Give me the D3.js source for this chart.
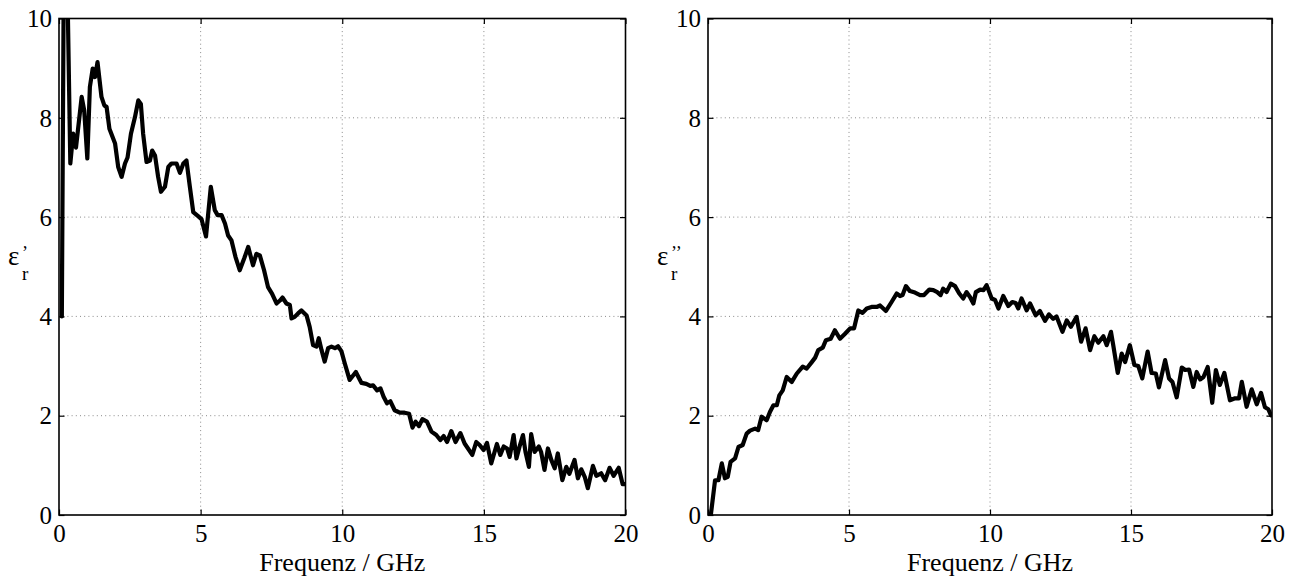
<!DOCTYPE html>
<html>
<head>
<meta charset="utf-8">
<script src="https://cdn.jsdelivr.net/npm/d3@7"></script>
<style>
  html, body { margin: 0; padding: 0; background: #fff; }
  svg { display: block; }
  text { font-family: "Liberation Serif", "Times New Roman", serif; fill: #000; }
</style>
</head>
<body>
<svg id="chart" width="1292" height="578"></svg>
<script>
// Frequency axis (GHz) and permittivity ticks
const xTicks = [0, 5, 10, 15, 20];
const yTicks = [0, 2, 4, 6, 8, 10];
const xLabel = "Frequenz / GHz";

// Real part of relative permittivity, eps_r'
const freqReal = [
  0.1, 0.2, 0.4, 0.5, 0.6, 0.8, 0.89, 1.0, 1.09, 1.19,
  1.27, 1.36, 1.5, 1.6, 1.68, 1.78, 1.98, 2.09, 2.21, 2.33,
  2.42, 2.54, 2.68, 2.8, 2.89, 2.97, 3.09, 3.21, 3.29, 3.39,
  3.5, 3.6, 3.74, 3.86, 3.97, 4.15, 4.27, 4.39, 4.5, 4.62,
  4.74, 4.91, 5.03, 5.19, 5.36, 5.5, 5.6, 5.74, 5.86, 5.97,
  6.09, 6.23, 6.38, 6.54, 6.68, 6.85, 6.97, 7.09, 7.24, 7.38,
  7.52, 7.68, 7.8, 7.89, 8.03, 8.15, 8.21, 8.32, 8.44, 8.56,
  8.74, 8.85, 8.97, 9.09, 9.17, 9.27, 9.38, 9.5, 9.62, 9.74,
  9.85, 9.97, 10.09, 10.26, 10.48, 10.68, 10.85, 10.99, 11.09, 11.23,
  11.35, 11.46, 11.58, 11.7, 11.85, 12.03, 12.2, 12.36, 12.48, 12.59,
  12.71, 12.83, 12.99, 13.15, 13.32, 13.46, 13.58, 13.7, 13.85, 14.0,
  14.17, 14.32, 14.44, 14.59, 14.73, 14.85, 14.99, 15.11, 15.26, 15.46,
  15.58, 15.7, 15.82, 15.91, 16.05, 16.15, 16.26, 16.38, 16.47, 16.59,
  16.67, 16.79, 16.94, 17.02, 17.14, 17.26, 17.38, 17.5, 17.61, 17.77,
  17.91, 18.02, 18.2, 18.32, 18.44, 18.56, 18.67, 18.85, 18.97, 19.14,
  19.28, 19.44, 19.58, 19.76, 19.9, 20.0
];
const epsReal = [
  4.0, 14.0, 7.08, 7.68, 7.4, 8.42, 8.15, 7.18, 8.62, 8.99,
  8.82, 9.12, 8.42, 8.25, 8.22, 7.78, 7.48, 7.01, 6.81, 7.08,
  7.2, 7.68, 8.01, 8.35, 8.28, 7.68, 7.11, 7.14, 7.34, 7.24,
  6.81, 6.51, 6.61, 7.01, 7.08, 7.08, 6.89, 7.08, 7.14, 6.61,
  6.1, 6.02, 5.96, 5.61, 6.61, 6.14, 6.04, 6.04, 5.87, 5.63,
  5.53, 5.2, 4.93, 5.17, 5.4, 5.03, 5.26, 5.23, 4.93, 4.59,
  4.46, 4.26, 4.32, 4.38, 4.26, 4.23, 3.96, 3.99, 4.06, 4.12,
  4.02, 3.79, 3.42, 3.39, 3.56, 3.32, 3.09, 3.36, 3.39, 3.36,
  3.4, 3.3, 3.05, 2.72, 2.88, 2.66, 2.64, 2.6, 2.61, 2.51,
  2.55, 2.38, 2.25, 2.29, 2.11, 2.06, 2.06, 2.04, 1.76, 1.88,
  1.79, 1.93, 1.88, 1.68, 1.61, 1.51, 1.59, 1.47, 1.69, 1.47,
  1.65, 1.44, 1.34, 1.21, 1.47, 1.41, 1.31, 1.45, 1.04, 1.43,
  1.21, 1.38, 1.34, 1.17, 1.61, 1.14, 1.38, 1.61, 1.27, 0.97,
  1.63, 1.27, 1.38, 1.27, 0.91, 1.34, 1.11, 0.94, 1.24, 0.7,
  0.97, 0.83, 1.11, 0.74, 0.92, 0.77, 0.54, 0.99, 0.79, 0.84,
  0.7, 0.95, 0.79, 0.95, 0.62, 0.62
];

// Imaginary part of relative permittivity, eps_r''
const freqImag = [
  0.1, 0.25, 0.37, 0.49, 0.6, 0.7, 0.8, 0.96, 1.08, 1.23,
  1.37, 1.49, 1.67, 1.78, 1.9, 2.08, 2.2, 2.32, 2.44, 2.53,
  2.65, 2.79, 2.97, 3.15, 3.36, 3.5, 3.68, 3.8, 3.91, 4.07,
  4.18, 4.35, 4.5, 4.68, 4.86, 5.04, 5.18, 5.33, 5.48, 5.63,
  5.8, 5.98, 6.1, 6.31, 6.51, 6.69, 6.81, 6.9, 7.02, 7.16,
  7.34, 7.52, 7.66, 7.85, 7.99, 8.13, 8.25, 8.34, 8.46, 8.61,
  8.76, 8.91, 9.05, 9.17, 9.29, 9.41, 9.5, 9.65, 9.77, 9.88,
  10.06, 10.18, 10.3, 10.47, 10.65, 10.79, 10.91, 11.0, 11.12, 11.3,
  11.42, 11.62, 11.77, 11.95, 12.09, 12.24, 12.36, 12.57, 12.72, 12.87,
  13.07, 13.23, 13.39, 13.55, 13.7, 13.84, 14.02, 14.14, 14.29, 14.37,
  14.53, 14.67, 14.79, 14.96, 15.12, 15.26, 15.4, 15.59, 15.73, 15.88,
  15.99, 16.21, 16.35, 16.47, 16.62, 16.8, 16.92, 17.06, 17.21, 17.33,
  17.45, 17.57, 17.72, 17.88, 18.01, 18.15, 18.31, 18.51, 18.69, 18.83,
  18.93, 19.1, 19.28, 19.46, 19.61, 19.75, 19.87, 19.96
];
const epsImag = [
  0.0, 0.7, 0.7, 1.04, 0.74, 0.77, 1.07, 1.14, 1.37, 1.41,
  1.64, 1.7, 1.74, 1.71, 1.98, 1.91, 2.08, 2.21, 2.21, 2.41,
  2.51, 2.78, 2.68, 2.85, 2.99, 2.95, 3.08, 3.17, 3.32, 3.37,
  3.52, 3.55, 3.72, 3.55, 3.65, 3.76, 3.76, 4.12, 4.07, 4.16,
  4.19, 4.19, 4.22, 4.11, 4.29, 4.46, 4.41, 4.43, 4.61, 4.51,
  4.48, 4.43, 4.43, 4.54, 4.53, 4.49, 4.43, 4.56, 4.49, 4.66,
  4.61, 4.46, 4.36, 4.49, 4.39, 4.26, 4.49, 4.54, 4.53, 4.63,
  4.36, 4.33, 4.16, 4.41, 4.21, 4.29, 4.27, 4.16, 4.36, 4.12,
  4.26, 4.02, 4.11, 3.91, 4.04, 3.95, 4.0, 3.69, 3.92, 3.79,
  3.99, 3.49, 3.76, 3.32, 3.6, 3.47, 3.6, 3.42, 3.69, 3.42,
  2.86, 3.25, 3.08, 3.42, 3.02, 3.0, 2.75, 3.29, 2.86, 2.85,
  2.57, 3.12, 2.75, 2.68, 2.37, 2.97, 2.92, 2.93, 2.58, 2.88,
  2.73, 2.78, 2.98, 2.26, 2.92, 2.62, 2.86, 2.31, 2.35, 2.35,
  2.68, 2.18, 2.53, 2.23, 2.46, 2.17, 2.13, 2.01
];

const svg = d3.select("#chart");
const plotTop = 18.5, plotBottom = 515;
const serif = '"Liberation Serif", "Times New Roman", serif';

const panels = [
  { id: "re", left: 59, right: 625.5, freq: freqReal, vals: epsReal, primes: "\u2019" },
  { id: "im", left: 708, right: 1272, freq: freqImag, vals: epsImag, primes: "\u2019\u2019" }
];

panels.forEach(p => {
  const x = d3.scaleLinear().domain([0, 20]).range([p.left, p.right]);
  const y = d3.scaleLinear().domain([0, 10]).range([plotBottom, plotTop]);
  const w = p.right - p.left, h = plotBottom - plotTop;
  const g = svg.append("g");

  // dotted grid
  const grid = g.append("g").attr("stroke", "#8a8a8a").attr("stroke-width", 1)
    .attr("stroke-dasharray", "1,3.2");
  grid.selectAll(".gx").data(xTicks.slice(1, -1)).join("line")
    .attr("x1", d => x(d)).attr("x2", d => x(d)).attr("y1", plotTop).attr("y2", plotBottom);
  grid.selectAll(".gy").data(yTicks.slice(1, -1)).join("line")
    .attr("x1", p.left).attr("x2", p.right).attr("y1", d => y(d)).attr("y2", d => y(d));

  // curve, clipped to the axes box
  const clipId = "clip-" + p.id;
  svg.append("clipPath").attr("id", clipId).append("rect")
    .attr("x", p.left).attr("y", plotTop).attr("width", w).attr("height", h);
  const line = d3.line().x((d, i) => x(p.freq[i])).y(d => y(d));
  g.append("path").datum(p.vals)
    .attr("clip-path", `url(#${clipId})`)
    .attr("d", line)
    .attr("fill", "none").attr("stroke", "#000").attr("stroke-width", 4.2)
    .attr("stroke-linejoin", "round").attr("stroke-linecap", "round");

  // axes: inward ticks on all four sides
  const tick = 5.5;
  const axB = d3.axisBottom(x).tickValues(xTicks).tickSize(-tick).tickFormat(d3.format("d"));
  const axT = d3.axisTop(x).tickValues(xTicks).tickSize(-tick).tickFormat("");
  const axL = d3.axisLeft(y).tickValues(yTicks).tickSize(-tick).tickFormat(d3.format("d")).tickPadding(7);
  const axR = d3.axisRight(y).tickValues(yTicks).tickSize(-tick).tickFormat("");

  const styleAxis = sel => {
    sel.attr("font-family", null).attr("font-size", null);
    sel.select(".domain").remove();
    sel.selectAll(".tick line").attr("stroke", "#000").attr("stroke-width", 1.2);
    sel.selectAll("text").style("font-family", serif).style("font-size", "25px").attr("fill", "#000");
  };
  g.append("g").attr("transform", `translate(0,${plotBottom})`).call(axB).call(styleAxis)
    .selectAll("text").attr("y", 27).attr("dy", null);
  g.append("g").attr("transform", `translate(0,${plotTop})`).call(axT).call(styleAxis);
  g.append("g").attr("transform", `translate(${p.left},0)`).call(axL).call(styleAxis)
    .selectAll("text").attr("dy", "0.33em");
  g.append("g").attr("transform", `translate(${p.right},0)`).call(axR).call(styleAxis);

  // box
  g.append("rect").attr("x", p.left).attr("y", plotTop).attr("width", w).attr("height", h)
    .attr("fill", "none").attr("stroke", "#000").attr("stroke-width", 1.6);

  // x axis title
  g.append("text").attr("x", (p.left + p.right) / 2).attr("y", 571)
    .attr("text-anchor", "middle").style("font-family", serif).style("font-size", "26px").text(xLabel);

  // y axis title: epsilon with primes and subscript r
  const lx = p.left - 51;
  const yl = g.append("g").style("font-family", serif);
  yl.append("text").attr("x", lx).attr("y", 265).style("font-size", "27px").text("\u03b5");
  yl.append("text").attr("x", lx + 14).attr("y", 259).style("font-size", "18px").text(p.primes);
  yl.append("text").attr("x", lx + 14).attr("y", 280).style("font-size", "19px").text("r");
});
</script>
</body>
</html>
